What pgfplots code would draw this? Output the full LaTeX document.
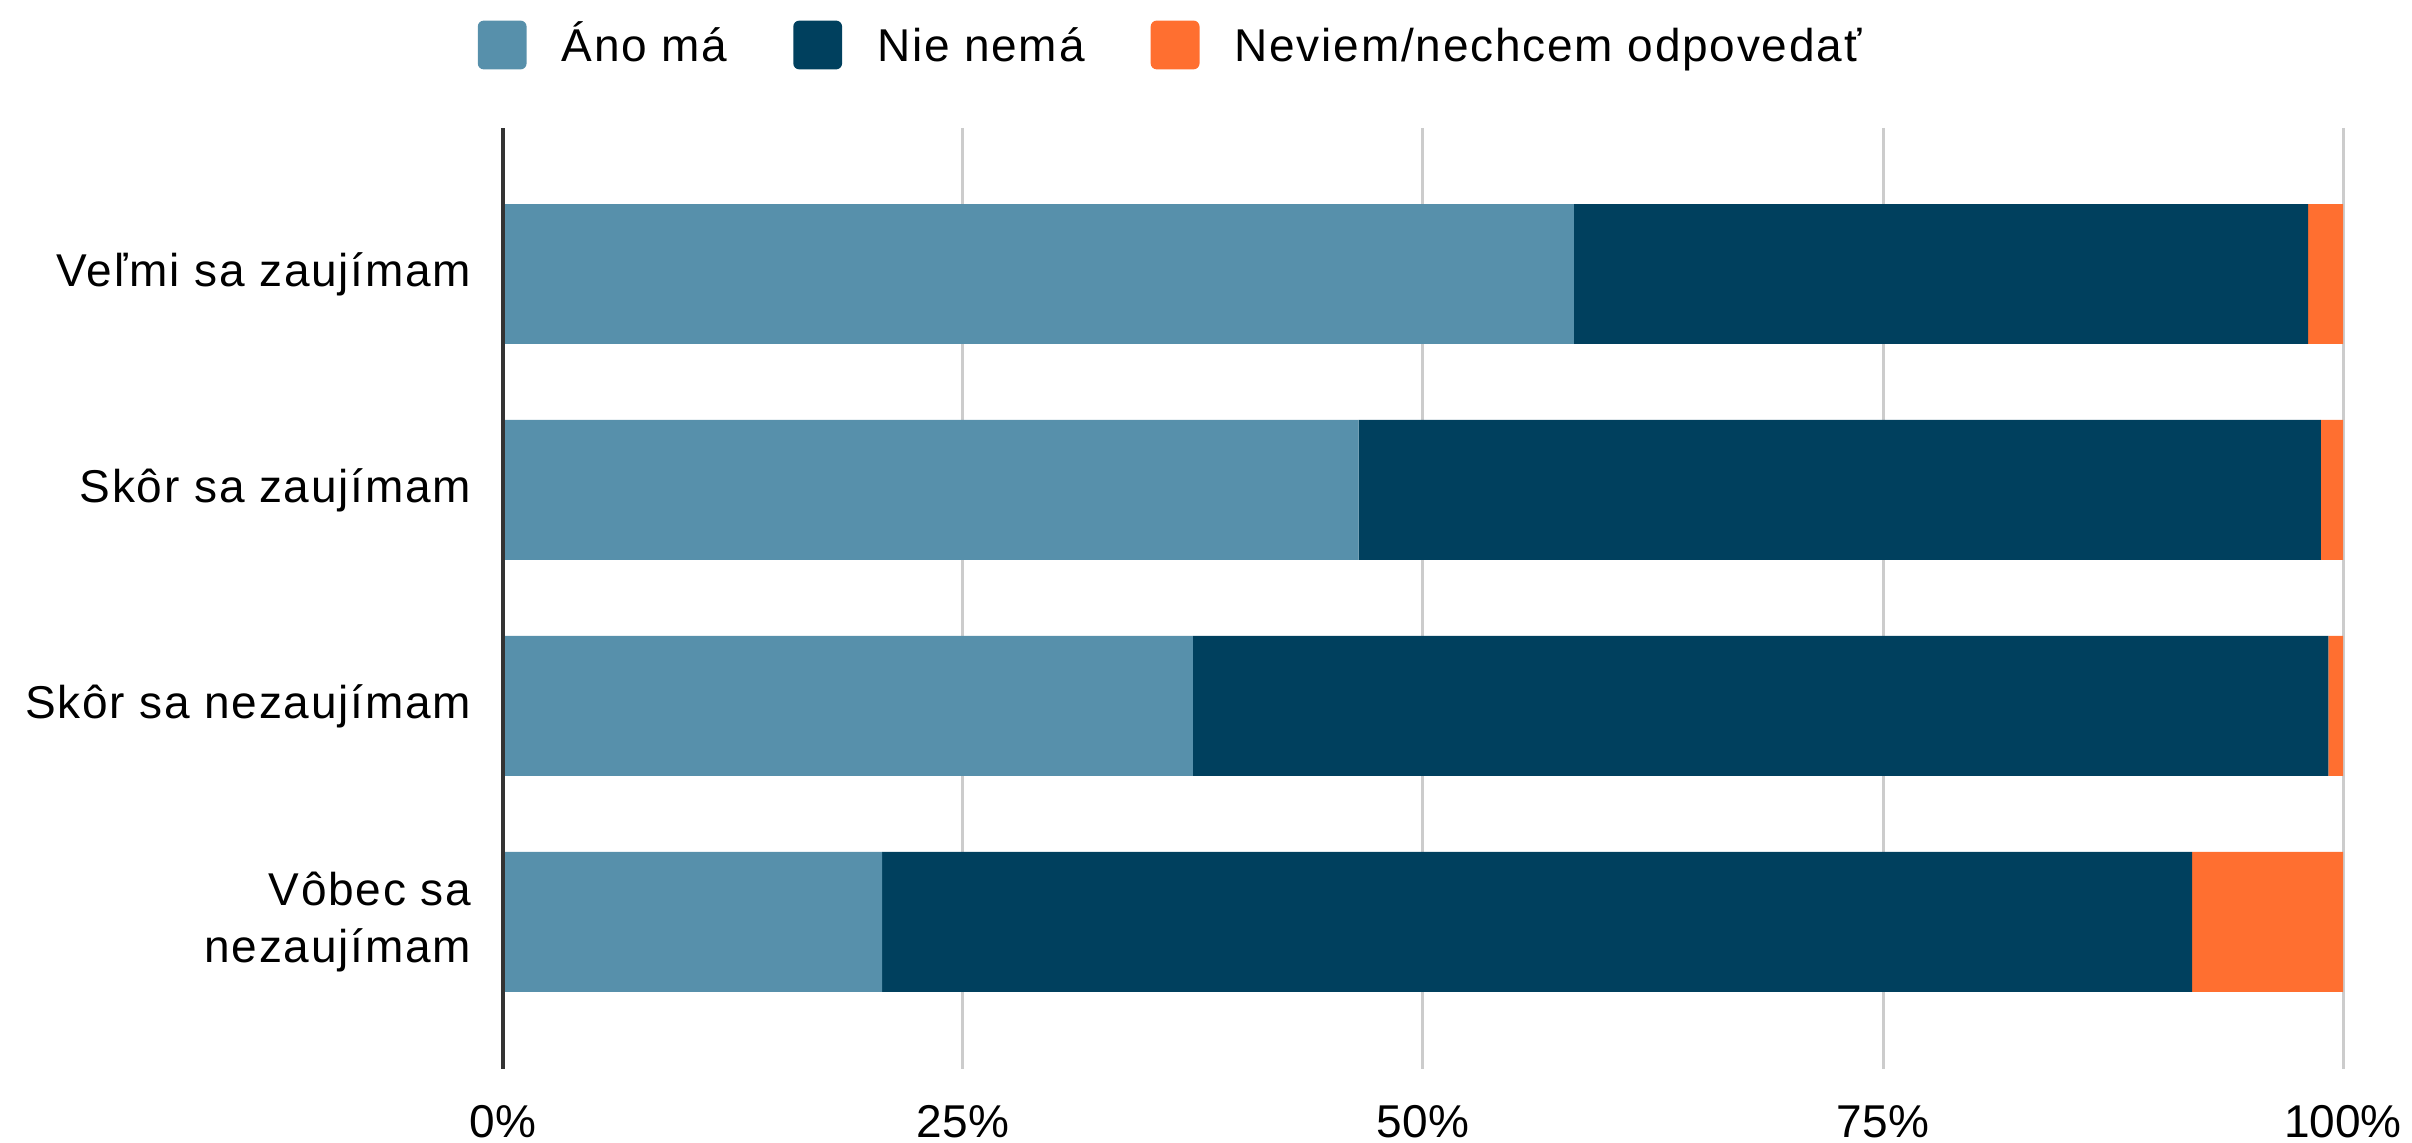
\documentclass[border=0pt]{standalone}
\usepackage{fontspec}
\setmainfont{Liberation Sans}
\newfontfamily\lbl{Liberation Sans}[LetterSpace=3.9]
\usepackage{pgfplots}
\pgfplotsset{compat=1.18}
\definecolor{ano}{HTML}{5790AB}
\definecolor{nie}{HTML}{00405E}
\definecolor{neviem}{HTML}{FF6F30}
\definecolor{mriezka}{HTML}{CCCCCC}
\definecolor{os}{HTML}{333333}
\newcommand\legtext[1]{\vphantom{Áy}#1}

\begin{document}
\fontsize{11.5}{13.5}\selectfont
\begin{tikzpicture}
\begin{axis}[
    name=ax,
    xbar stacked,
    scale only axis,
    width=460pt, height=235.25pt,
    bar width=0.648,
    xmin=0, xmax=100,
    ymin=-0.676, ymax=3.681,
    y dir=reverse,
    xtick={0,25,50,75,100},
    xticklabels={0\%,25\%,50\%,75\%,100\%},
    ytick={0,1,2,3},
    yticklabels={Veľmi sa zaujímam,Skôr sa zaujímam,Skôr sa nezaujímam,{Vôbec sa\\nezaujímam}},
    yticklabel style={align=right, inner sep=0pt, xshift=-7.75pt,
                      font=\lbl\fontsize{11.5}{14.4}\selectfont},
    xticklabel style={inner sep=0pt, yshift=-9pt},
    tick style={draw=none},
    axis line style={draw=none},
    xmajorgrids,
    grid style={mriezka, line width=0.75pt},
    legend columns=-1,
    legend style={at={(0,1)}, anchor=west, xshift=-6.5pt, yshift=20.75pt,
                  draw=none, fill=none, inner sep=0pt, font=\lbl,
                  nodes={inner sep=0pt},
                  /tikz/every odd column/.append style={column sep=8.75pt},
                  /tikz/every even column/.append style={column sep=16.5pt}},
    legend image code/.code={\fill[#1, rounded corners=1.5pt] (0pt,-6.1pt) rectangle (12.2pt,6.1pt);},
]
% Áno má
\addplot[fill=ano, draw=none] coordinates {(58.2,0) (46.5,1) (37.5,2) (20.6,3)};
\addlegendentry{\legtext{Áno má}}
% Nie nemá
\addplot[fill=nie, draw=none] coordinates {(39.9,0) (52.3,1) (61.7,2) (71.2,3)};
\addlegendentry{\legtext{Nie nemá}}
% Neviem/nechcem odpovedať
\addplot[fill=neviem, draw=none] coordinates {(1.9,0) (1.2,1) (0.8,2) (8.2,3)};
\addlegendentry{\legtext{Neviem/nechcem odpovedať}}
\end{axis}
\draw[os, line width=1pt] (ax.south west) -- (ax.north west);
\pgfresetboundingbox
\path ([xshift=-125.75pt, yshift=-18.5pt]ax.south west) rectangle ([xshift=17.25pt, yshift=32pt]ax.north east);
\end{tikzpicture}
\end{document}
